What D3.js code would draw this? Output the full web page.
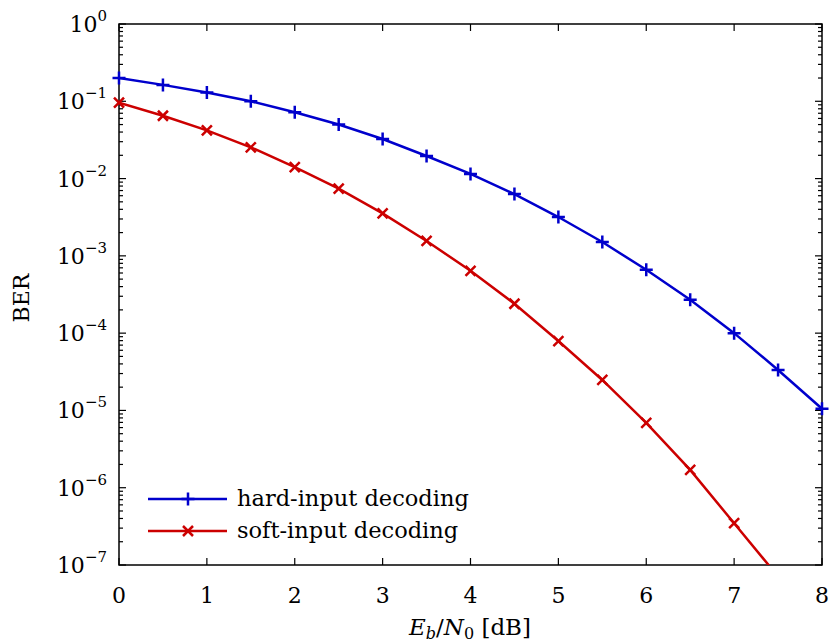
<!DOCTYPE html>
<html>
<head>
<meta charset="utf-8">
<script src="https://cdn.jsdelivr.net/npm/d3@7"></script>
<style>
  body { margin: 0; background: #fff; }
  svg { font-family: "DejaVu Serif", "Liberation Serif", serif; }
</style>
</head>
<body>
<svg id="chart" width="830" height="644"></svg>
<script>
// values
const ebn0 = [0, 0.5, 1, 1.5, 2, 2.5, 3, 3.5, 4, 4.5, 5, 5.5, 6, 6.5, 7, 7.5, 8];
const hardBer = [0.2, 0.163, 0.13, 0.1, 0.072, 0.05, 0.0325, 0.0196, 0.0115, 0.0063,
    0.00318, 0.00151, 0.00066, 0.00027, 0.0001, 3.34e-5, 1.05e-5];
const softBer = [0.096, 0.065, 0.042, 0.0254, 0.0141, 0.0074, 0.00355, 0.00156, 0.00064,
    0.00024, 7.9e-5, 2.48e-5, 6.9e-6, 1.7e-6, 3.47e-7, 7.1e-8];
const xTicks = [0, 1, 2, 3, 4, 5, 6, 7, 8];
const yExponents = [0, -1, -2, -3, -4, -5, -6, -7];
const seriesNames = ["hard-input decoding", "soft-input decoding"];

const margin = { left: 119, right: 8, top: 24, bottom: 79 };
const W = 830, H = 644;
const svg = d3.select("#chart");

const x = d3.scaleLinear().domain([0, 8]).range([margin.left, W - margin.right]);
const y = d3.scaleLog().domain([1e-7, 1]).range([H - margin.bottom, margin.top]);

const blue = "#0000cc", red = "#cc0000";

svg.append("defs").append("clipPath").attr("id", "clip")
    .append("rect")
    .attr("x", x(0)).attr("y", y(1))
    .attr("width", x(8) - x(0)).attr("height", y(1e-7) - y(1));

// ticks: major and minor on all four sides, pointing inward
const g = svg.append("g").attr("stroke", "#000").attr("stroke-width", 1.2);
xTicks.forEach(t => {
    g.append("line").attr("x1", x(t)).attr("x2", x(t)).attr("y1", y(1e-7)).attr("y2", y(1e-7) - 7);
    g.append("line").attr("x1", x(t)).attr("x2", x(t)).attr("y1", y(1)).attr("y2", y(1) + 7);
});
yExponents.forEach(e => {
    const v = Math.pow(10, e);
    g.append("line").attr("x1", x(0)).attr("x2", x(0) + 7).attr("y1", y(v)).attr("y2", y(v));
    g.append("line").attr("x1", x(8)).attr("x2", x(8) - 7).attr("y1", y(v)).attr("y2", y(v));
    if (e > -7) {
        for (let m = 2; m <= 9; m++) {
            const mv = m * Math.pow(10, e - 1);
            g.append("line").attr("x1", x(0)).attr("x2", x(0) + 4).attr("y1", y(mv)).attr("y2", y(mv));
            g.append("line").attr("x1", x(8)).attr("x2", x(8) - 4).attr("y1", y(mv)).attr("y2", y(mv));
        }
    }
});

// frame
svg.append("rect")
    .attr("x", x(0)).attr("y", y(1))
    .attr("width", x(8) - x(0)).attr("height", y(1e-7) - y(1))
    .attr("fill", "none").attr("stroke", "#000").attr("stroke-width", 1.5);

// x tick labels
svg.append("g").selectAll("text").data(xTicks).join("text")
    .attr("x", d => x(d)).attr("y", 603)
    .attr("text-anchor", "middle").attr("font-size", 22)
    .text(d => d);

// y tick labels 10^e
const yl = svg.append("g").selectAll("text").data(yExponents).join("text")
    .attr("x", 107).attr("y", d => y(Math.pow(10, d)) + 8)
    .attr("text-anchor", "end").attr("font-size", 22);
yl.append("tspan").text("10");
yl.append("tspan").attr("dy", -11).attr("font-size", 15)
    .text(d => d === 0 ? "0" : "\u2212" + (-d));

// axis labels
const xl = svg.append("text").attr("x", 470).attr("y", 635)
    .attr("text-anchor", "middle").attr("font-size", 23);
xl.append("tspan").attr("font-style", "italic").text("E");
xl.append("tspan").attr("font-style", "italic").attr("font-size", 16).attr("dy", 4).text("b");
xl.append("tspan").attr("dy", -4).text("/");
xl.append("tspan").attr("font-style", "italic").text("N");
xl.append("tspan").attr("font-size", 16).attr("dy", 4).text("0");
xl.append("tspan").attr("dy", -4).text(" [dB]");

svg.append("text")
    .attr("transform", "translate(29,298) rotate(-90)")
    .attr("text-anchor", "middle").attr("font-size", 22)
    .text("BER");

// lines
const line = d3.line().x((d, i) => x(ebn0[i])).y(d => y(d));
const plot = svg.append("g").attr("clip-path", "url(#clip)");

plot.append("path").datum(hardBer).attr("d", line)
    .attr("fill", "none").attr("stroke", blue).attr("stroke-width", 2.5);
plot.append("path").datum(softBer).attr("d", line)
    .attr("fill", "none").attr("stroke", red).attr("stroke-width", 2.5);

function plus(sel, cx, cy, s, color) {
    sel.append("path")
        .attr("d", `M${cx - s},${cy}H${cx + s}M${cx},${cy - s}V${cy + s}`)
        .attr("stroke", color).attr("stroke-width", 2.5).attr("fill", "none");
}
function cross(sel, cx, cy, s, color) {
    sel.append("path")
        .attr("d", `M${cx - s},${cy - s}L${cx + s},${cy + s}M${cx - s},${cy + s}L${cx + s},${cy - s}`)
        .attr("stroke", color).attr("stroke-width", 2.5).attr("fill", "none");
}

const marks = svg.append("g");
hardBer.forEach((v, i) => plus(marks, x(ebn0[i]), y(v), 6.5, blue));
softBer.forEach((v, i) => { if (v >= 1e-7) cross(marks, x(ebn0[i]), y(v), 5, red); });

// legend
const legend = svg.append("g");
const legendRows = [{ name: seriesNames[0], color: blue, y: 499, m: plus, s: 6.5 },
                    { name: seriesNames[1], color: red, y: 531, m: cross, s: 5 }];
legendRows.forEach(r => {
    legend.append("line").attr("x1", 148).attr("x2", 227).attr("y1", r.y).attr("y2", r.y)
        .attr("stroke", r.color).attr("stroke-width", 2.5);
    r.m(legend, 188, r.y, r.s, r.color);
    legend.append("text").attr("x", 237).attr("y", r.y + 7)
        .attr("font-size", 22.5).text(r.name);
});
</script>
</body>
</html>
